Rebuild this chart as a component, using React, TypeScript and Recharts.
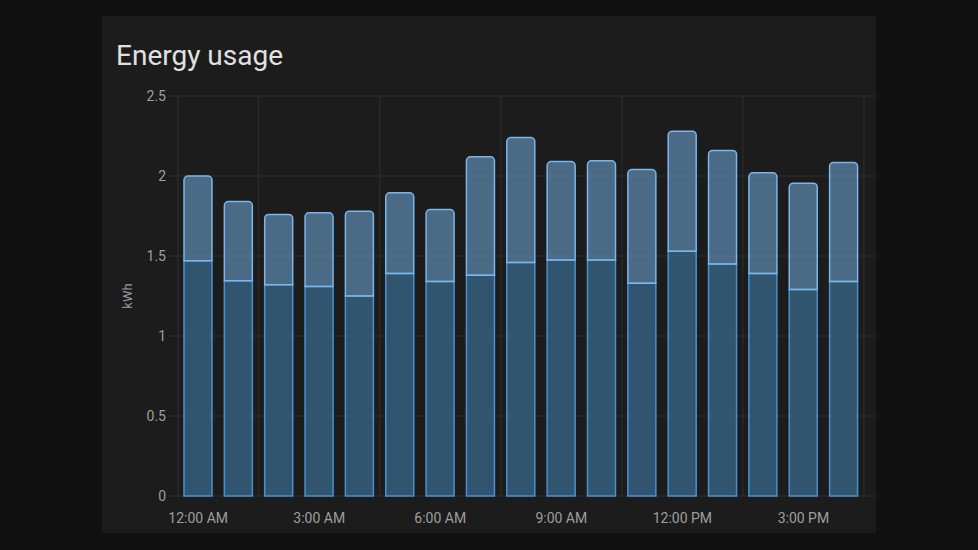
import React from 'react';
import { BarChart, Bar, XAxis, YAxis, CartesianGrid } from 'recharts';

const hours = [0, 1, 2, 3, 4, 5, 6, 7, 8, 9, 10, 11, 12, 13, 14, 15, 16];
const totalKwh = [2.0, 1.84, 1.76, 1.77, 1.78, 1.895, 1.79, 2.12, 2.24, 2.09, 2.095, 2.04, 2.28, 2.16, 2.02, 1.955, 2.085];
const baseKwh = [1.47, 1.345, 1.32, 1.31, 1.25, 1.39, 1.34, 1.38, 1.46, 1.475, 1.475, 1.33, 1.53, 1.45, 1.39, 1.29, 1.34];
const labelHours = [0, 3, 6, 9, 12, 15];
const labelTexts = ['12:00 AM', '3:00 AM', '6:00 AM', '9:00 AM', '12:00 PM', '3:00 PM'];
const gridHours = [-0.5, 1.5, 4.5, 7.5, 10.5, 13.5, 16.5];
const yTicks = [0, 0.5, 1, 1.5, 2, 2.5];

const data = hours.map((h, i) => ({
  hour: h,
  base: baseKwh[i],
  rest: Math.round((totalKwh[i] - baseKwh[i]) * 1000) / 1000,
}));

const FONT = 'Roboto, "Noto Sans", sans-serif';
const TICK = { fill: '#9e9e9e', fontSize: 14, fontFamily: FONT };

const KwhLabel = (props: any) => {
  const vb = props.viewBox || {};
  const cx = 25;
  const cy = vb.y + vb.height / 2;
  return (
    <text
      x={cx}
      y={cy}
      transform={`rotate(-90 ${cx} ${cy})`}
      textAnchor="middle"
      dominantBaseline="central"
      fill="#9e9e9e"
      fontSize={13}
      fontFamily={FONT}
    >
      kWh
    </text>
  );
};

export default function App() {
  return (
    <div style={{ position: 'absolute', left: 0, top: 0, width: 978, height: 550, background: '#111111' }}>
      <div
        style={{
          position: 'absolute',
          left: 102,
          top: 16,
          width: 774,
          height: 517,
          background: '#1c1c1c',
          overflow: 'hidden',
        }}
      >
        <div
          style={{
            position: 'absolute',
            left: 14,
            top: 26,
            fontFamily: FONT,
            fontSize: 28,
            lineHeight: '28px',
            color: '#e1e1e1',
            whiteSpace: 'nowrap',
          }}
        >
          Energy usage
        </div>
        <div style={{ position: 'absolute', left: 0, top: 0 }}>
          <BarChart width={883} height={517} data={data} margin={{ top: 80, right: 0, left: 0, bottom: 0 }}>
            <CartesianGrid xAxisId="g" stroke="#2f2f2f" strokeWidth={1} />
            <XAxis
              xAxisId="g"
              dataKey="hour"
              type="number"
              domain={[-0.5, 19.5]}
              ticks={gridHours}
              tickFormatter={() => ''}
              interval={0}
              tickSize={8}
              tickMargin={0}
              tickLine={{ stroke: '#4a4a4a' }}
              axisLine={{ stroke: '#555555' }}
              height={0}
              allowDataOverflow
            />
            <XAxis
              xAxisId="m"
              dataKey="hour"
              type="number"
              domain={[-0.5, 19.5]}
              ticks={labelHours}
              tickFormatter={(v: number) => labelTexts[labelHours.indexOf(v)] ?? ''}
              tickLine={false}
              axisLine={false}
              tickSize={0}
              tickMargin={17}
              tick={TICK}
              height={37}
              interval={0}
              allowDataOverflow
            />
            <YAxis
              domain={[0, 2.5]}
              ticks={yTicks}
              width={76}
              axisLine={false}
              tickLine={{ stroke: '#2f2f2f' }}
              tickSize={10}
              tickMargin={2}
              tick={TICK}
              label={<KwhLabel />}
            />
            <Bar
              xAxisId="m"
              dataKey="base"
              stackId="a"
              barSize={28}
              fill="#468cc2"
              fillOpacity={0.5}
              stroke="#4a90d0"
              strokeWidth={1.5}
              isAnimationActive={false}
            />
            <Bar
              xAxisId="m"
              dataKey="rest"
              stackId="a"
              barSize={28}
              fill="#78b8f0"
              fillOpacity={0.5}
              stroke="#7ab6ec"
              strokeWidth={1.5}
              radius={[4, 4, 0, 0]}
              isAnimationActive={false}
            />
          </BarChart>
        </div>
      </div>
    </div>
  );
}
